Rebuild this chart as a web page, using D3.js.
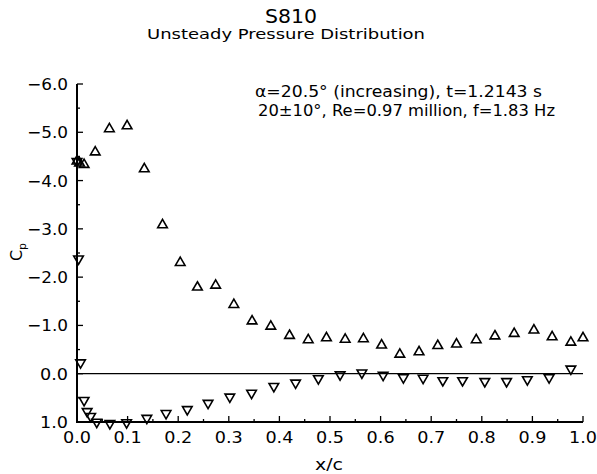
<!DOCTYPE html>
<html><head><meta charset="utf-8">
<script src="https://cdn.jsdelivr.net/npm/d3@7"></script>
<style>body{margin:0;background:#fff}svg{display:block}text{font-family:"DejaVu Sans",sans-serif;fill:#000}</style>
</head><body><svg id="c" width="597" height="474"></svg>
<script>
const upperX = [0.0, 0.005, 0.014, 0.036, 0.064, 0.099, 0.133, 0.169, 0.204, 0.238, 0.274, 0.310, 0.346, 0.383, 0.420, 0.457, 0.493, 0.530, 0.566, 0.602, 0.638, 0.676, 0.713, 0.750, 0.789, 0.826, 0.864, 0.903, 0.939, 0.976, 1.0];
const upperCp = [-4.40, -4.36, -4.33, -4.59, -5.07, -5.13, -4.24, -3.08, -2.30, -1.79, -1.83, -1.43, -1.09, -0.98, -0.79, -0.70, -0.74, -0.71, -0.72, -0.59, -0.40, -0.45, -0.58, -0.61, -0.70, -0.78, -0.83, -0.90, -0.76, -0.65, -0.74];
const lowerX = [0.0, 0.003, 0.007, 0.014, 0.020, 0.027, 0.039, 0.065, 0.098, 0.138, 0.176, 0.218, 0.259, 0.302, 0.345, 0.389, 0.432, 0.477, 0.520, 0.563, 0.605, 0.645, 0.684, 0.723, 0.762, 0.806, 0.849, 0.890, 0.933, 0.976];
const lowerCp = [-4.40, -2.38, -0.23, 0.55, 0.78, 0.88, 1.0, 1.03, 1.01, 0.92, 0.82, 0.74, 0.61, 0.48, 0.40, 0.26, 0.19, 0.10, 0.02, -0.02, 0.03, 0.08, 0.09, 0.14, 0.14, 0.16, 0.16, 0.12, 0.08, -0.10];
const xTicks = [0,0.1,0.2,0.3,0.4,0.5,0.6,0.7,0.8,0.9,1.0];
const yTicks = [-6,-5,-4,-3,-2,-1,0,1];

const svg = d3.select("#c");
const x = d3.scaleLinear().domain([0,1]).range([77,583]);
const y = d3.scaleLinear().domain([-6,1]).range([84,422]);
const fit = (t,w)=>t.attr("textLength",w).attr("lengthAdjust","spacingAndGlyphs");

// zero line
svg.append("line").attr("x1",x(0)).attr("x2",x(1)).attr("y1",y(0)).attr("y2",y(0)).attr("stroke","#000").attr("stroke-width",1.2);

// bottom axis
const xa = svg.append("g").attr("transform",`translate(0,${y(1)})`);
xa.append("line").attr("x1",x(0)-1).attr("x2",x(1)).attr("stroke","#000").attr("stroke-width",2);
xa.selectAll(".mj").data(xTicks).join("line").attr("x1",d=>x(d)).attr("x2",d=>x(d)).attr("y1",0).attr("y2",-6).attr("stroke","#000").attr("stroke-width",1.3);
xa.selectAll(".mn").data(d3.range(0.05,1,0.1)).join("line").attr("x1",d=>x(d)).attr("x2",d=>x(d)).attr("y1",0).attr("y2",-3).attr("stroke","#000").attr("stroke-width",1.3);
fit(xa.selectAll("text").data(xTicks).join("text").attr("x",d=>x(d)-14).attr("y",21).style("font-size","16px").text(d=>d.toFixed(1)),28);

// left axis
const ya = svg.append("g").attr("transform",`translate(${x(0)},0)`);
ya.append("line").attr("y1",y(-6)).attr("y2",y(1)+1).attr("stroke","#000").attr("stroke-width",2);
ya.selectAll(".mj").data(yTicks).join("line").attr("y1",d=>y(d)).attr("y2",d=>y(d)).attr("x1",0).attr("x2",6).attr("stroke","#000").attr("stroke-width",1.3);
ya.selectAll(".mn").data(d3.range(-5.5,1,1)).join("line").attr("y1",d=>y(d)).attr("y2",d=>y(d)).attr("x1",0).attr("x2",3).attr("stroke","#000").attr("stroke-width",1.3);
ya.selectAll("text").data(yTicks).join("text").attr("x",d=>d<0?-50:-37).attr("y",d=>y(d)+6).style("font-size","16px")
  .text(d=>(d<0?"\u2212":"")+Math.abs(d).toFixed(1))
  .attr("textLength",d=>d<0?41:28).attr("lengthAdjust","spacingAndGlyphs");

// markers
const up = d3.symbol().type(d3.symbolTriangle).size(40);
const tri = (g,xs,ys,rot)=>g.selectAll("path").data(xs.map((d,i)=>[d,ys[i]])).join("path")
  .attr("d",up).attr("transform",d=>`translate(${x(d[0])},${y(d[1])}) rotate(${rot})`)
  .attr("fill","none").attr("stroke","#000").attr("stroke-width",1.6);
tri(svg.append("g"),upperX,upperCp,0);
tri(svg.append("g"),lowerX,lowerCp,180);

// titles
fit(svg.append("text").attr("x",265).attr("y",23).style("font-size","19px").text("S810"),52);
fit(svg.append("text").attr("x",147).attr("y",39).style("font-size","14px").text("Unsteady Pressure Distribution"),278);
fit(svg.append("text").attr("x",255).attr("y",97).style("font-size","15px").text("\u03b1=20.5\u00b0 (increasing), t=1.2143 s"),287);
fit(svg.append("text").attr("x",258).attr("y",116).style("font-size","15px").text("20\u00b110\u00b0, Re=0.97 million, f=1.83 Hz"),297);
fit(svg.append("text").attr("x",315).attr("y",470).style("font-size","16px").text("x/c"),28);
const yl = svg.append("text").attr("transform","translate(22,252) rotate(-90)").attr("text-anchor","middle").style("font-size","16px");
yl.append("tspan").text("C");
yl.append("tspan").attr("dy",4).style("font-size","11px").text("p");
</script></body></html>
